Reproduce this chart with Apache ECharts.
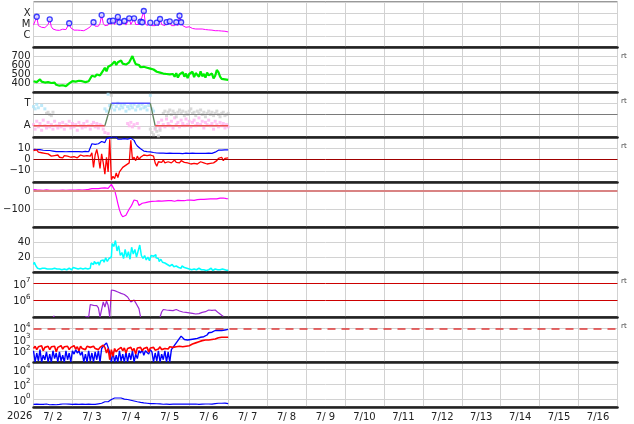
<!DOCTYPE html>
<html><head><meta charset="utf-8">
<script src="https://cdn.jsdelivr.net/npm/echarts@6/dist/echarts.min.js"></script>
<style>html,body{margin:0;padding:0;background:#fff}#c{width:634px;height:424px}</style>
</head><body><div id="c"></div>
<script>
// ---------- labels ----------
const yearLabel = '2026';
const dayLabels = ['7/ 2','7/ 3','7/ 4','7/ 5','7/ 6','7/ 7','7/ 8','7/ 9','7/10','7/11','7/12','7/13','7/14','7/15','7/16'];
const flareClassLabels = {'-4':'X','-5':'M','-6':'C'};
const speedLabels = {'400':'400','500':'500','600':'600','700':'700'};
const polarityLabels = {'1':'T','-1':'A'};
const imfLabels = {'10':'10','0':'0','-10':'\u221210'};
const dstLabels = {'0':'0','-100':'\u2212100'};
const pdynLabels = {'20':'20','40':'40'};
const electronLabels = {'6':'{b|10}{s|6}','7':'{b|10}{s|7}'};
const protonLabels = {'2':'{b|10}{s|2}','3':'{b|10}{s|3}','4':'{b|10}{s|4}'};
const lowLabels = {'0':'{b|10}{s|0}','2':'{b|10}{s|2}','4':'{b|10}{s|4}'};
const rtLabel = 'rt';

// ---------- data (hourly from 7/2 00:00, index = hour) ----------
const xrayLog = [
 -5.05,-4.9,-4.31,-5.1,-5.2,-5.25,-5.22,-5.28,-5.3,-5.0,
 -4.54,-5.2,-5.4,-5.45,-5.5,-5.48,-5.52,-5.45,-5.42,-5.4,
 -5.45,-5.3,-4.89,-5.3,-5.45,-5.5,-5.55,-5.5,-5.58,-5.52,
 -5.5,-5.55,-5.45,-5.4,-5.3,-5.2,-5.1,-4.8,-5.15,-5.2,
 -5.15,-4.9,-4.16,-4.9,-5.1,-5.15,-5.05,-4.69,-5.0,-4.66,
 -5.0,-5.1,-4.33,-4.8,-5.05,-5.0,-4.69,-5.05,-5.0,-4.45,
 -5.0,-5.05,-4.45,-5.0,-5.1,-5.0,-4.75,-4.8,-3.8,-4.9,
 -5.1,-5.15,-4.84,-5.1,-5.2,-5.1,-4.84,-5.1,-4.51,-5.0,
 -5.15,-5.1,-4.78,-5.0,-4.72,-5.1,-5.2,-5.1,-4.8,-5.1,
 -4.22,-4.8,-5.1,-5.2,-5.25,-5.3,-5.2,-5.3,-5.35,-5.3,
 -5.4,-5.35,-5.4,-5.45,-5.4,-5.42,-5.45,-5.5,-5.48,-5.45,
 -5.5,-5.52,-5.55,-5.5,-5.55,-5.6,-5.58,-5.62,-5.6,-5.65,-5.66];
const flareHours = [2,10,22,37,42,47,49,52,53,56,59,62,66,67,68,72,76,78,82,84,88,90,91];
const flareLogs = [-4.31,-4.54,-4.89,-4.80,-4.16,-4.69,-4.66,-4.33,-4.80,-4.69,-4.45,-4.45,-4.75,-4.80,-3.80,-4.84,-4.84,-4.51,-4.78,-4.72,-4.80,-4.22,-4.80];

const windSpeed = [
 420,435,410,425,440,415,430,405,420,410,395,
 400,385,405,380,395,370,390,375,385,365,380,395,
 405,420,400,415,410,425,405,420,415,410,430,420,425,
 480,500,470,495,510,485,500,
 540,570,530,580,560,600,
 610,640,600,630,620,650,615,635,605,625,630,620,
 700,650,
 610,590,600,575,595,580,590,570,585,560,575,550,
 540,525,530,515,520,505,510,500,515,495,
 480,500,470,510,460,495,475,520,470,505,455,500,480,525,465,510,490,470,530,475,500,460,515,485,470,505,450,480,
 545,520,470,
 445,455,440,450,435];

// polarity: T = +1, A = -1
const polarityHours = [0,44,48,72,75,120];
const polarityVals = [-1,-1,1,1,-1,-1];
const polarityPink = [
 -0.9,-1.3,-0.6,-1.1,-0.8,-1.4,-0.5,-1.0,-1.2,-0.7,
 -1.1,-0.9,-1.3,-0.6,-1.0,-1.2,-0.8,-1.1,-0.7,-1.3,
 -0.9,-1.0,-0.6,-1.2,-0.8,-1.1,-0.9,-1.4,-0.7,-1.0,
 -1.2,-0.8,-1.1,-0.6,-1.0,-1.3,-0.9,-0.7,-1.1,-0.8,
 -1.2,-0.9,-1.0,-1.3,-1.6,
 null,-1.7,null,null,null,null,null,null,null,null,
 null,null,null,-0.8,-1.0,-0.7,-1.1,-0.9,null,-0.8,
 -1.2,null,null,null,null,null,null,null,null,null,
 -1.3,-1.0,-0.7,-1.2,-0.5,-0.9,-1.1,-0.4,-0.8,-1.0,
 -0.6,-1.2,-0.3,-0.9,-0.7,-1.1,-0.5,-0.8,-1.0,-0.4,
 -0.9,-0.6,-1.1,-0.7,-0.5,-1.0,-0.8,-0.3,-0.9,-0.6,
 -1.2,-0.7,-0.9,-0.5,-1.0,-0.8,-1.3,-0.6,-0.9,-1.1,
 -0.7,-1.0,-0.8,-1.2,-0.9,-1.1];
const polarityBlue = [[0,0.7],[1,0.5],[2,0.9],[3,0.6],[5,0.8],[7,0.5],[44,0.5],[45,0.3],[46,1.8],[47,0.8],[48,0.6],[49,0.9],[50,0.4],[51,0.7],[52,1.0],[53,0.5],[54,0.8],[55,0.6],[56,0.9],[57,0.3],[58,0.7],[59,0.5],[60,0.8],[61,0.6],[62,0.9],[63,0.4],[64,0.7],[65,0.8],[66,0.5],[67,0.9],[68,0.6],[69,0.7],[70,0.4],[71,0.8],[72,1.7],[73,0.5],[74,0.3]];
const polarityGray = [[8,0.1],[9,0.2],[10,0.0],[11,-0.1],[12,0.2],[48,1.7],[72,-1.3],[73,-1.6],[74,-1.8],[75,-1.2],[76,-1.5],[77,-1.9],[78,-1.4],
 [80,0.1],[81,0.3],[82,-0.1],[83,0.2],[84,0.4],[85,0.0],[86,0.3],[87,0.1],[88,-0.2],[89,0.2],
 [90,0.4],[91,0.1],[92,0.3],[93,-0.1],[94,0.2],[95,0.0],[96,0.3],[97,0.5],[98,0.1],[99,0.2],
 [100,-0.1],[101,0.3],[102,0.1],[103,0.4],[104,0.0],[105,0.2],[106,-0.2],[107,0.1],[108,0.3],[109,0.0],
 [110,0.2],[111,-0.1],[112,0.1],[113,0.3],[114,0.0],[115,-0.2],[116,0.1],[117,0.2],[118,-0.1],[119,0.0],[120,0.1]];

const imfBt = [
 9,9.2,8.8,8.5,8.8,8.5,8.2,8.3,8,7.8,8,7.6,7.5,
 7.2,7,7.3,7,6.8,7,7.2,6.9,7,7.1,6.8,7,7.2,7,6.9,7,7.1,6.8,7,7.2,7,6.9,7.5,
 14,14.5,13.5,15,14,15.5,16,
 17,15,18.5,17,19.5,20,
 20,19.5,20,
 18,17.5,18,17,18.5,17.5,18,17,19,
 19.5,17,
 14,12,10.5,9.5,8.5,
 7.5,7.2,7,7.1,6.8,6.5,6.2,
 6,5.8,6,5.7,5.9,5.6,5.8,5.5,5.7,5.6,5.8,5.5,5.6,5.4,5.7,5.5,5.6,5.3,5.5,5.6,5.4,5.5,5.3,5.6,5.4,5.5,5.3,5.4,5.6,5.5,5.3,5.4,5.5,5.6,5.4,5.5,5.7,6.5,8,
 8.3,8.5,8.4,8.6,8.5,8.4,8.5];
const imfBz = [
 8,7,8.5,6.5,7.5,6,7,5.5,6.5,5,6,
 3,2,3.5,2.5,4,2,3,1.5,3.5,2.5,3,4,2,3.5,2.5,3,1.5,3,4,2.5,3,2,3.5,2.5,3,
 6,-7,4,9,2,-8,5,-3,-13,2,-11,18,-18,
 -15,-17,-12,-16,-11,
 -9,-7,-8,-5,-6,-3,
 17,0,
 2,-1,3,0,2,1,
 4,5,3.5,4.5,4,5,3,
 -3,-6,-2,
 -1,-2.5,-0.5,-3,-1.5,-2,-1,-3,-2,-0.5,-2.5,-1.5,-3,-1,-2,-2.5,-1.5,
 -3,-2.5,-4,-3,-3.5,-2.5,-4,-3,-2,-3.5,-3,-2.5,-4,-3,-3.5,-2,-3,-2.5,-1,
 1,0,2,-1,1,0.5,1.5];

const dst = [
 8,7,6,6,5,5,4,5,6,5,4,3,4,5,4,3,3,4,5,4,3,4,5,6,5,4,5,6,7,6,5,6,7,8,9,
 12,13,11,14,15,13,14,16,15,17,16,15,
 25,37,30,5,
 -30,-70,-105,-130,-143,-140,
 -135,-125,-100,-87,-70,-50,
 -41,-55,-80,-75,-68,-63,
 -65,-62,-60,-63,-58,-60,-57,-59,-55,-58,-56,-60,-55,-57,-54,-56,-53,-55,-57,-54,
 -52,-55,-53,-51,-54,-52,-50,-53,-51,-49,-52,-50,-48,-50,-47,-49,-46,-48,-45,-47,
 -44,-46,-43,-42,-44,-41,-40,-42,-39,-41,-42,-43];

const pdyn = [
 10,13,8,
 5,4,5,3,5,4,3,4,
 4,3,5,4,6,4,3,5,4,3,4,5,3,4,6,5,4,3,5,4,6,5,4,6,5,
 12,10,14,11,13,9,15,
 16,13,19,14,18,20,
 38,34,42,28,35,22,
 26,18,30,20,27,17,
 33,24,30,20,28,36,22,
 18,22,16,20,15,22,21,23,19,
 18,14,17,13,12,10,11,8,10,9,
 7,8,6,7,5,8,6,5,
 5,4,3,5,4,3,4,5,3,4,3,2,4,3,5,3,2,4,3,2,3,4,2,3,2,3];

const electronLog = [
 null,null,null,null,null,null,null,null,null,null,null,null,
 5.02,5.06,
 null,null,null,null,null,null,null,null,null,null,null,null,null,null,null,null,null,null,
 5.03,5.06,5.0,
 5.75,5.72,5.7,5.74,5.68,5.55,5.0,
 5.0,
 5.9,5.6,5.96,5.7,5.0,
 6.62,6.6,6.58,6.55,6.5,6.47,6.42,6.38,6.35,6.3,6.2,6.1,5.9,6.0,6.02,5.85,5.95,5.5,5.0,
 null,null,null,null,null,null,null,null,null,null,null,5.0,
 5.3,5.45,5.48,5.42,5.46,5.4,5.44,5.38,5.42,5.45,5.4,5.36,5.4,5.3,5.35,5.28,5.32,5.25,5.3,5.22,
 5.28,5.18,5.25,5.2,5.3,5.28,5.35,5.32,5.38,5.42,5.45,5.4,5.48,5.42,5.35,5.25,5.15,5.1,5.05,
 null,null,null];

const protonBlueLog = [
 2.0,1.0,1.8,1.1,2.1,1.0,1.6,1.2,1.9,1.0,1.7,1.0,2.0,1.3,1.8,1.0,1.9,1.1,1.6,1.0,2.0,1.2,1.8,1.0,
 2.0,1.7,2.1,1.8,2.0,1.6,
 1.9,1.0,1.7,1.0,2.0,1.1,1.8,1.0,1.9,1.2,2.0,1.0,
 2.2,2.4,2.5,2.7,2.3,
 1.8,1.0,1.9,1.0,1.6,1.0,2.0,1.1,1.7,1.0,1.9,1.0,1.8,1.2,2.0,1.0,1.7,1.3,
 2.0,1.8,2.1,1.6,2.0,1.9,1.7,2.1,
 1.9,1.0,1.8,1.1,2.0,1.0,1.7,1.2,2.0,1.0,1.9,1.0,2.1,
 2.3,2.5,2.7,2.9,3.1,3.3,3.2,
 3.0,3.1,2.95,3.05,3.0,3.15,3.05,2.95,3.1,3.0,3.2,3.1,3.25,3.2,
 3.4,3.6,3.7,3.65,3.75,3.8,3.7,
 3.8,3.85,3.8,3.9,3.85,3.88,3.9];
const protonRedLog = [
 2.2,2.4,2.1,2.35,2.2,2.45,2.0,2.3,2.25,2.4,2.1,2.35,2.2,2.4,1.9,2.3,2.2,2.45,2.15,2.35,
 2.25,2.4,2.1,2.3,2.2,2.45,2.15,2.35,2.0,2.4,2.2,2.35,2.1,2.4,2.25,2.3,2.15,2.4,2.2,2.35,
 2.1,2.3,2.4,2.5,2.3,
 1.8,2.2,1.2,2.1,1.5,2.2,1.9,2.1,
 2.1,2.3,2.0,2.25,1.8,2.2,2.1,2.3,2.0,2.2,1.7,2.25,2.1,2.3,2.0,2.2,2.15,2.3,1.9,2.25,
 2.1,2.3,2.05,2.2,2.15,2.35,2.1,2.25,2.2,2.3,2.15,2.35,2.2,
 2.3,2.25,2.35,2.3,2.4,2.3,2.35,2.3,2.4,2.35,2.45,2.5,
 2.6,2.65,2.7,2.75,2.8,2.85,2.9,2.95,2.95,3.0,2.95,3.05,3.0,3.1,3.05,3.1,3.15,3.1,3.2,3.15,3.2,3.25,3.2];

const lowLog = [
 -0.65,-0.7,-0.62,-0.68,-0.66,-0.7,-0.64,-0.68,-0.6,-0.66,-0.7,-0.63,-0.67,-0.65,-0.7,-0.62,-0.66,-0.68,-0.6,-0.64,
 -0.6,-0.58,-0.62,-0.6,-0.64,-0.58,-0.62,-0.6,-0.64,-0.66,-0.62,-0.68,-0.64,-0.66,-0.62,-0.6,-0.64,-0.62,-0.66,-0.6,
 -0.58,-0.55,-0.5,-0.45,
 -0.3,-0.25,-0.3,-0.1,0.0,0.1,0.2,0.25,0.2,
 0.15,0.2,0.1,0.05,0.1,0.0,-0.05,-0.1,-0.15,-0.2,-0.25,-0.3,-0.35,-0.38,-0.42,-0.45,-0.48,-0.5,-0.52,
 -0.55,-0.58,-0.55,-0.6,-0.57,-0.62,-0.58,-0.6,-0.63,-0.59,-0.62,-0.6,-0.64,-0.6,-0.62,-0.65,-0.6,-0.63,-0.61,-0.64,
 -0.6,-0.66,-0.62,-0.64,-0.6,-0.65,-0.62,-0.64,-0.6,-0.63,-0.66,-0.6,-0.62,-0.64,-0.6,-0.63,-0.6,-0.58,-0.62,-0.6,
 -0.55,-0.52,-0.5,-0.48,-0.5,-0.52,-0.48,-0.5,-0.55];

// ---------- layout ----------
const FONT = 'DejaVu Sans';
const LEFT = 33.5, RIGHT = 16.5, TOP0 = 2, PH = 45, NP = 9;
const SPAN_H = 360; // 15 days in hours
const GRID_C = '#d2d2d2';

const hourly = arr => arr.map((v, i) => [i, v]);
const grids = [], xAxes = [], yAxes = [], series = [];
for (let k = 0; k < NP; k++) {
  grids.push({left: LEFT, right: RIGHT, top: TOP0 + k * PH, height: PH, show: true, borderColor: '#333', borderWidth: 1});
  xAxes.push({type: 'value', gridIndex: k, min: 0, max: SPAN_H, interval: 24,
    axisLabel: {show: false}, axisTick: {show: false},
    axisLine: {show: true, onZero: false, lineStyle: {color: '#222', width: 2.5}},
    splitLine: {show: true, lineStyle: {color: GRID_C, width: 1}}});
}
// overlay grid for the date labels
grids.push({left: LEFT, right: RIGHT, top: TOP0 + (NP - 1) * PH, height: PH, show: false});
xAxes.push({type: 'value', gridIndex: NP, min: 0, max: SPAN_H, interval: 12,
  axisLine: {show: false}, axisTick: {show: false}, splitLine: {show: false},
  axisLabel: {show: true, margin: 5, fontSize: 10, color: '#222', fontFamily: FONT,
    formatter: v => { const i = (v - 12) / 24; return (Number.isInteger(i) && i >= 0 && i < dayLabels.length) ? dayLabels[i] : ''; }}});

const rich = {b: {fontSize: 10, color: '#222', fontFamily: FONT, lineHeight: 13, verticalAlign: 'bottom'},
              s: {fontSize: 7, color: '#222', fontFamily: FONT, lineHeight: 13, verticalAlign: 'top'}};
function yAx(k, min, max, labels, extra) {
  return Object.assign({type: 'value', gridIndex: k, min: min, max: max,
    axisLine: {show: false}, axisTick: {show: false},
    axisLabel: {show: true, margin: 3, fontSize: 10, color: '#222', fontFamily: FONT, rich: rich,
      formatter: v => { const key = String(Math.round(v * 1000) / 1000); return labels[key] !== undefined ? labels[key] : ''; }},
    splitLine: {show: true, lineStyle: {color: GRID_C, width: 1}}}, extra);
}
yAxes.push(yAx(0, -7, -3, flareClassLabels, {interval: 1}));
yAxes.push(yAx(1, 300, 800, speedLabels, {interval: 100}));
yAxes.push(yAx(2, -2, 2, polarityLabels, {interval: 1}));
yAxes.push(yAx(3, -20, 20, imfLabels, {interval: 10}));
yAxes.push(yAx(4, -200, 50, dstLabels, {interval: 100}));
yAxes.push(yAx(5, 0, 60, pdynLabels, {interval: 20}));
yAxes.push(yAx(6, 5, Math.log10(5e7), electronLabels, {interval: 1, splitLine: {show: false}}));
yAxes.push(yAx(7, 1, 5, protonLabels, {interval: 1}));
yAxes.push(yAx(8, -1, 5, lowLabels, {minInterval: 2, maxInterval: 2}));
yAxes.push({type: 'value', gridIndex: NP, min: 0, max: 1, show: false});

const hline = (vals, color, width, type) => ({silent: true, symbol: 'none', animation: false, label: {show: false},
  lineStyle: {color: color, width: width, type: type || 'solid'}, emphasis: {disabled: true},
  data: vals.map(v => ({yAxis: v}))});
const line = (k, data, color, width, extra) => Object.assign({type: 'line', xAxisIndex: k, yAxisIndex: k, data: data,
  showSymbol: false, symbol: 'none', animation: false, lineStyle: {color: color, width: width || 1}, itemStyle: {color: color}}, extra);
const scat = (k, data, color, size) => ({type: 'scatter', xAxisIndex: k, yAxisIndex: k, data: data, symbol: 'rect',
  symbolSize: size, itemStyle: {color: color}, animation: false, silent: true});

// panel 1: X-ray
series.push(line(0, hourly(xrayLog), '#ff00ff', 1));
series.push({type: 'scatter', xAxisIndex: 0, yAxisIndex: 0, data: flareHours.map((h, i) => [h, flareLogs[i]]),
  symbol: 'circle', symbolSize: 5, animation: false, z: 5,
  itemStyle: {color: '#d4d8ff', borderColor: '#1010ff', borderWidth: 1.3}});
// panel 2: speed
series.push(line(1, hourly(windSpeed), '#00ee00', 2.2));
// panel 3: polarity
series.push(scat(2, hourly(polarityPink), '#ffb4f0', 3));
series.push(scat(2, polarityGray, '#cfcfcf', 3));
series.push(scat(2, polarityBlue, '#aee4f8', 3));
series.push(line(2, [], '#777', 1, {markLine: hline([0], '#7a7a7a', 1)}));
for (let i = 0; i < polarityHours.length - 1; i++) {
  const a = polarityVals[i], b = polarityVals[i + 1];
  const col = (a === b) ? (a > 0 ? '#5050ff' : '#f05050') : '#5f855f';
  series.push(line(2, [[polarityHours[i], a], [polarityHours[i + 1], b]], col, 1.3, {z: 4}));
}
// panel 4: IMF
series.push(line(3, [], '#a00000', 1, {markLine: hline([0], '#a00000', 1)}));
series.push(line(3, hourly(imfBt), '#0000ff', 1.2));
series.push(line(3, hourly(imfBz), '#ff0000', 1.3));
// panel 5: Dst
series.push(line(4, [], '#d88080', 1, {markLine: hline([0], '#d98383', 2.2)}));
series.push(line(4, hourly(dst), '#ff00ff', 1.2));
// panel 6
series.push(line(5, hourly(pdyn), '#00ffff', 1.5, {step: 'middle'}));
// panel 7: electrons
series.push(line(6, [], '#cc0000', 1, {markLine: hline([6, 7], '#cc0000', 1)}));
series.push(line(6, hourly(electronLog), '#9b27d4', 1.2));
// panel 8: protons
series.push(line(7, [], '#e03030', 1, {markLine: hline([4], '#e03a3a', 1.5, [8, 6])}));
series.push(line(7, hourly(protonBlueLog), '#0000ff', 1.4));
series.push(line(7, hourly(protonRedLog), '#ff0000', 1.6));
// panel 9
series.push(line(8, hourly(lowLog), '#0000ff', 1.2));

const rtPanels = [1, 2, 3, 6, 7];
const graphic = rtPanels.map(k => ({type: 'text', left: 621, top: TOP0 + k * PH + 6,
  style: {text: rtLabel, fontSize: 7, fill: '#444', fontFamily: FONT}}));
graphic.push({type: 'text', left: 7, top: TOP0 + NP * PH + 4, style: {text: yearLabel, fontSize: 10, fill: '#222', fontFamily: FONT}});

const chart = echarts.init(document.getElementById('c'), null, {renderer: 'canvas'});
chart.setOption({animation: false, backgroundColor: '#fff', grid: grids, xAxis: xAxes, yAxis: yAxes, series: series, graphic: graphic});
</script></body></html>
